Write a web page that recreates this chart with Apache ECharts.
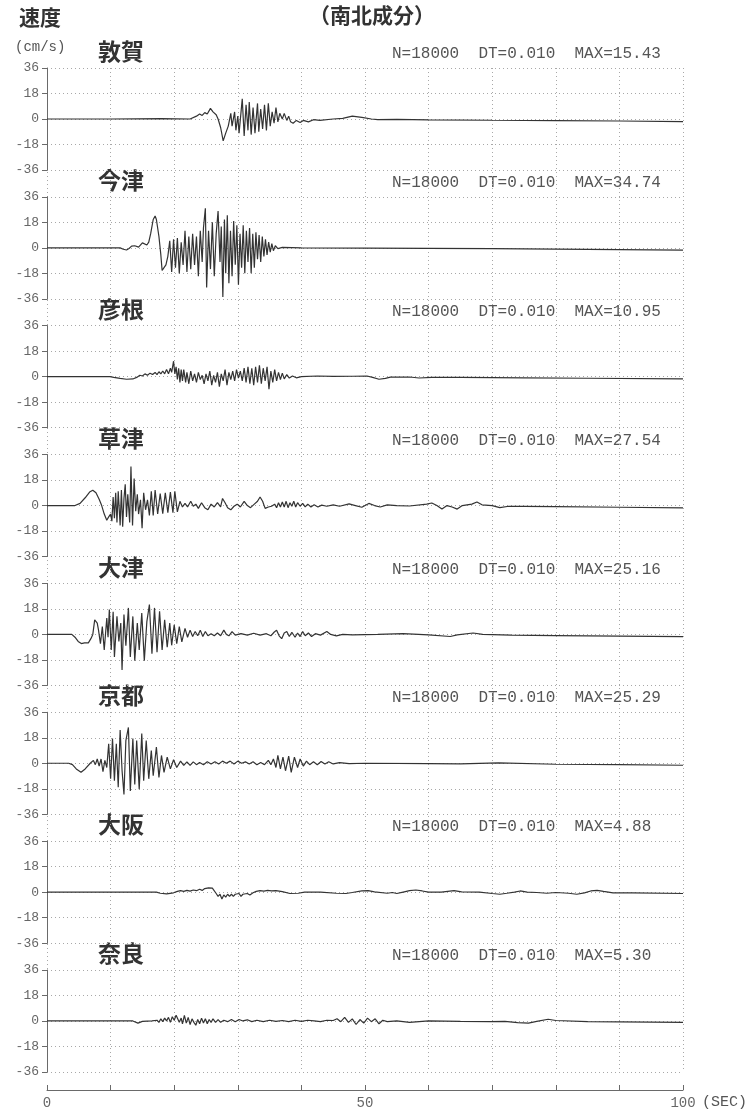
<!DOCTYPE html>
<html>
<head>
<meta charset="utf-8">
<script src="https://cdn.jsdelivr.net/npm/echarts@6/dist/echarts.min.js"></script>
<style>
  html, body { margin: 0; padding: 0; background: #fff; }
  #chart { width: 747px; height: 1112px; }
</style>
</head>
<body>
<div id="chart"></div>
<script>
// Station names, top to bottom
const stations = ['敦賀', '今津', '彦根', '草津', '大津', '京都', '大阪', '奈良'];
// Record header values
const sampleCount = 18000;
const sampleStep = '0.010';
const maxValues = ['15.43', '34.74', '10.95', '27.54', '25.16', '25.29', '4.88', '5.30'];
// Axis ticks
const velocityTicks = [-36, -18, 0, 18, 36];
const timeTicks = [0, 50, 100];

// Velocity traces (cm/s), pairs of [time in s, velocity]
const tsuruga = [[0,0],[10,0],[18,0.2],[22.5,0],[23.5,2],[24.0,3.5],[24.4,2.5],[24.8,4.5],[25.2,3.5],[25.7,7.5],[26.1,5],[26.6,3],[26.9,0],[27.3,-6],[27.7,-15.43],[28.1,-10],[28.5,-5],[28.9,4],[29.1,-5],[29.5,5],[29.7,-8],[30.0,2],[30.2,-10],[30.7,14.2],[31.0,-12],[31.3,10],[31.6,-8],[31.8,12],[32.1,-11],[32.4,8],[32.7,-10],[33.1,11],[33.3,-9],[33.6,7],[33.9,-7],[34.2,10],[34.5,-8],[34.8,11],[35.1,-5],[35.4,5],[35.7,-3],[36.0,8],[36.3,-2],[36.6,4],[37.0,0],[37.3,4],[37.7,-1],[38.0,2],[38.3,-2],[38.7,-3],[39.2,-1],[39.8,-2.5],[40.3,-1],[41.1,-2],[41.9,-0.5],[42.9,-1],[45,0],[46.5,0.5],[48,2],[49.5,1.2],[51,0],[52,-0.5],[55,-0.3],[60,-0.6],[70,-0.9],[80,-1.1],[90,-1.4],[100,-1.8]];

const imazu = [[0,0],[11.5,0],[12.0,-1],[12.5,-1.5],[12.9,-0.5],[13.3,1.2],[13.8,1.5],[14.4,0.5],[15.0,3.5],[15.3,4],[15.7,2],[16.0,4],[16.3,10],[16.7,20],[17.0,22.5],[17.2,20],[17.6,8],[17.9,-5],[18.1,-16],[18.4,-14],[18.7,-12],[19.0,-6],[19.3,5],[19.6,-17],[19.9,6],[20.2,-14],[20.5,7],[20.8,-18],[21.1,4],[21.4,-12],[21.7,12],[22.0,-17],[22.3,8],[22.6,-15],[22.9,10],[23.2,-12],[23.5,8],[23.8,-20],[24.1,12],[24.4,-10],[24.6,14],[24.9,28],[25.1,-28],[25.4,12],[25.7,-15],[26.0,18],[26.3,-20],[26.6,10],[26.9,26],[27.2,-10],[27.4,15],[27.65,-34.74],[27.9,20],[28.1,-18],[28.35,23],[28.6,-25],[28.85,12],[29.1,-20],[29.35,19],[29.6,-12],[29.85,16],[30.1,-26],[30.35,10],[30.6,-14],[30.85,16],[31.1,-18],[31.35,12],[31.6,-10],[31.85,14],[32.1,-18],[32.35,10],[32.6,-14],[32.85,11],[33.1,-8],[33.35,9],[33.6,-10],[33.85,8],[34.1,-6],[34.35,6],[34.6,-5],[34.85,4],[35.1,-3],[35.35,3],[35.6,-2],[35.9,1.5],[36.3,-0.5],[37,0.3],[40,0],[50,-0.2],[60,-0.4],[70,-0.6],[80,-0.9],[90,-1.2],[100,-1.6]];

const hikone = [[0,0],[9.9,0],[10.5,-0.5],[11.5,-1.2],[12.5,-1.8],[13.5,-1.6],[14.1,-0.5],[14.6,1],[15.0,0.5],[15.4,2],[15.8,1],[16.2,2.5],[16.6,1.5],[17.0,3],[17.3,1.5],[17.6,3.5],[17.9,2],[18.2,4],[18.5,2],[18.8,5],[19.1,2],[19.4,6],[19.6,3],[19.9,10.95],[20.1,2],[20.3,7],[20.5,-2],[20.7,6],[20.9,-4],[21.1,5],[21.3,-3],[21.5,5],[21.8,-4],[22.0,3],[22.3,-5],[22.6,4],[22.9,-3],[23.2,2],[23.5,-4],[23.8,3],[24.1,-2],[24.4,1],[24.7,-5],[25.0,2],[25.3,-3],[25.6,4],[25.9,-6],[26.2,1],[26.5,-4],[26.8,3],[27.1,-7],[27.4,2],[27.7,-3],[28.0,5],[28.3,-6],[28.6,3],[28.9,-2],[29.2,4],[29.5,-3],[29.8,5],[30.1,-1],[30.4,4],[30.7,-3],[31.0,6],[31.3,-4],[31.6,7],[31.9,-5],[32.2,6],[32.5,-6],[32.8,7],[33.1,-4],[33.4,8],[33.7,-5],[34.0,6],[34.3,-3],[34.6,7],[34.9,-8.8],[35.2,4],[35.5,-4],[35.8,5],[36.1,-3],[36.4,3],[36.7,-2],[37.0,2.5],[37.3,-1.5],[37.7,1.5],[38.1,-1],[38.6,0.5],[39.2,-0.8],[40,0],[42.5,0.5],[45,0.2],[48,0.3],[50.3,0.5],[51.2,-0.5],[52.2,-1.8],[53.2,-1.2],[54,-0.3],[57,-0.2],[58.5,-0.9],[60.5,-0.5],[65,-0.5],[75,-0.8],[85,-1.1],[100,-1.5]];

const kusatsu = [[0,0],[4.4,0],[5.2,1.5],[6.0,5.5],[6.7,9.5],[7.2,10.8],[7.7,9],[8.2,4.5],[8.6,0],[9.0,-6],[9.4,-10.4],[9.7,-8],[10.0,-6],[10.2,-11],[10.4,6],[10.6,-9],[10.8,9],[11.0,-12],[11.2,10],[11.5,-14],[11.7,11],[11.9,-15],[12.1,5],[12.3,15],[12.5,-8],[12.7,8],[13.0,-12],[13.2,27.54],[13.45,-14],[13.7,19],[13.95,-4],[14.2,8],[14.4,-6],[14.7,4],[14.95,-16],[15.2,9],[15.5,-3],[15.8,4],[16.1,-7],[16.4,10],[16.7,-7],[17.0,11],[17.4,-6],[17.8,8.5],[18.2,-5.7],[18.6,9],[19.0,-5],[19.4,9.5],[19.8,-5],[20.1,10],[20.5,-4.5],[20.9,3],[21.3,-1],[21.7,1.5],[22.1,-1],[22.6,3],[23.0,-0.5],[23.4,1],[23.8,-2],[24.3,2],[24.8,-1.5],[25.3,-3],[25.8,1],[26.3,-1],[26.8,2],[27.3,-1],[27.6,5],[28.0,2],[28.4,-1.5],[28.9,-3],[29.4,-0.5],[29.9,1],[30.4,-1],[31.0,3],[31.5,0],[32.0,-1.5],[32.6,1],[33.1,3],[33.5,6],[33.9,3],[34.3,-2],[34.8,-1],[35.3,-0.5],[35.8,1],[36.1,-1.5],[36.4,2],[36.7,-1],[37.0,2.5],[37.3,-1],[37.6,3],[37.9,-1.5],[38.2,2],[38.5,-0.5],[38.8,3],[39.1,-1],[39.4,2],[39.8,-0.5],[40.2,1.5],[40.6,-1],[41.0,1],[41.5,-1],[42.0,0.5],[42.6,-1],[43.2,0.3],[44,-0.5],[45,0.5],[46,-0.5],[47.5,1.2],[48.5,0],[49.5,-1.2],[50.6,1.5],[51.5,0],[52.4,-1],[53.5,0.5],[55,0],[57,-0.3],[59.7,1],[60.5,1.8],[61.3,0],[62.1,-2.5],[62.9,0],[63.7,-1],[64.5,-2.5],[65.3,0],[66.8,1],[67.6,2.5],[68.4,0.5],[70,0],[71.2,-1.5],[72.6,-0.5],[75,-0.6],[80,-0.8],[90,-1.2],[100,-1.6]];

const otsu = [[0,0],[3.9,0],[4.4,-2],[4.9,-5],[5.4,-6.5],[5.9,-6],[6.5,-6],[6.9,-3],[7.2,0],[7.5,10.3],[7.9,8],[8.1,3],[8.4,-6.5],[8.7,5.5],[9.0,-11],[9.4,11.5],[9.6,-2],[9.8,17.5],[10.1,-11],[10.4,16],[10.6,-16],[11.0,12.7],[11.3,-5],[11.6,8],[11.8,-25.16],[12.1,14],[12.4,-8],[12.8,18.7],[13.1,-16],[13.5,12.7],[13.8,-18.5],[14.2,8],[14.5,-11],[14.9,15],[15.3,-18.5],[15.7,9],[16.1,21],[16.5,-13.7],[16.9,18.7],[17.3,-12.5],[17.7,16.3],[18.1,-11],[18.5,10.3],[18.9,-9],[19.3,8],[19.6,-7.7],[20.0,6.7],[20.4,-6.5],[20.8,5.5],[21.2,-5.3],[21.7,4.3],[22.1,-2],[22.5,3],[22.9,-1.5],[23.3,2],[23.7,-1],[24.1,3],[24.5,-1.5],[24.9,2],[25.3,-1],[25.8,0.5],[26.3,-1],[26.8,1],[27.3,-1],[27.8,3],[28.2,0],[28.6,-1],[29.1,2],[29.6,-0.5],[30.5,0.5],[31.5,-0.5],[32.5,0.8],[33.5,-0.5],[34.5,0.5],[35.2,-1],[35.7,1.5],[36.1,3],[36.5,-1],[36.9,-3],[37.3,1],[37.7,2],[38.1,-1.5],[38.5,1.5],[39.0,-2],[39.4,1],[39.8,-1.5],[40.2,2],[40.6,-1],[41.1,1],[41.6,-1.5],[42.2,0.5],[43,-0.5],[44,2],[44.6,0],[45.5,-1],[46.5,0],[48,-0.3],[52,0],[56,0.5],[60,-0.3],[63.4,-1.5],[64.5,-0.3],[67,1],[68.5,0],[73,-0.5],[80,-0.8],[90,-1.2],[100,-1.5]];

const kyoto = [[0,0],[3.4,0],[4.0,-1],[4.6,-4],[5.35,-6.4],[6.0,-4],[6.8,0],[7.3,2],[7.6,-1],[7.9,3],[8.2,-2],[8.5,3],[8.8,-6],[9.1,2],[9.4,-3],[9.7,13.8],[10.0,-11],[10.3,17.4],[10.6,-12.4],[10.9,13.8],[11.2,-17],[11.5,23.4],[11.8,-5],[12.1,-22],[12.4,16],[12.8,25.29],[13.1,-19.6],[13.5,17.4],[13.8,-15],[14.1,16],[14.5,-18.4],[14.9,21],[15.2,-12.4],[15.6,16],[16.0,-11],[16.4,9],[16.7,-8.8],[17.2,11.5],[17.6,-10],[18.0,5.5],[18.4,-6.4],[18.9,4.3],[19.4,-4],[19.9,2.5],[20.4,-3],[21.0,1.5],[21.5,-1.5],[22.0,1],[22.5,-1.5],[23,1],[23.5,-1],[24,0.5],[24.6,-1],[25.2,1],[25.8,-0.5],[26.4,1],[27,-0.5],[27.6,1.5],[28.2,0],[28.8,1.5],[29.4,-0.5],[30,1.5],[30.6,0],[31.2,1],[31.8,-0.5],[32.4,1],[33,-1],[33.6,0.5],[34.2,-1],[34.8,2],[35.2,-1],[35.6,3],[36.0,-3],[36.3,5.5],[36.7,-4],[37.1,4.3],[37.5,-5.3],[38.0,5],[38.4,-6.4],[38.9,4.3],[39.4,-3],[39.8,3],[40.3,-2],[40.8,1.5],[41.3,-1],[41.9,1],[42.5,-1],[43.1,1.2],[43.7,-0.5],[44.3,1],[45,-0.5],[46,0.5],[47.5,-0.3],[50,0],[60,-0.3],[65,-0.5],[71,0.3],[80,-0.7],[90,-1],[100,-1.4]];

const osaka = [[0,0],[17.2,0],[17.8,-0.8],[18.8,-1.2],[19.9,-0.5],[20.5,0.5],[21.0,1],[21.5,0.5],[22.0,1.2],[22.5,0.7],[23.0,1.5],[23.5,1],[24.0,2],[24.4,1.2],[24.8,2.5],[25.1,1.5],[25.4,3],[25.7,2],[26.0,2.8],[26.3,1.5],[26.6,-1],[26.9,-3],[27.2,-1.5],[27.5,-4.88],[27.8,-2],[28.1,-3.5],[28.4,-1.5],[28.7,-3],[29.0,-1.5],[29.3,-3],[29.6,-1.5],[29.9,-2.5],[30.2,-1],[30.5,-3],[30.8,-1.5],[31.1,-2],[31.5,-1],[31.9,-2],[32.4,-0.5],[32.9,0.5],[33.5,1],[34.1,0.7],[34.7,1.2],[35.3,0.8],[36,1],[37,0.3],[38.2,-1],[39.5,-0.8],[40.5,0],[43,0],[45.5,-0.8],[47,-1],[48,-0.3],[49.5,0.8],[50.5,1],[51.5,0.2],[53.5,-0.8],[54.3,-0.3],[55,-1],[56,0],[57,1],[58,1.5],[59,0.8],[60,0],[62,0],[64,1],[65.2,0.2],[68,0],[70,-1],[71.2,-1.5],[72.3,-0.8],[73.5,0],[74.4,0.8],[75.5,0],[77,-0.3],[78.6,-0.8],[80,-0.3],[82,-0.8],[83.3,-1.5],[84.5,-0.5],[85.5,0.8],[86.5,1.2],[87.5,0.5],[89,-0.5],[92,-0.5],[100,-1]];

const nara = [[0,0],[13.5,0],[14.3,-1.5],[15.0,-0.3],[16.5,0],[17.3,0.5],[17.6,-1],[17.9,1.5],[18.2,-0.5],[18.5,2],[18.8,0],[19.1,2.5],[19.4,-1],[19.7,3],[20.0,0.5],[20.3,4],[20.5,5.3],[20.8,-1],[21.1,2],[21.3,-2],[21.6,4],[21.9,-1.5],[22.2,2.5],[22.5,-2.5],[22.8,1.5],[23.1,-1],[23.4,-3],[23.7,1],[24.0,-2],[24.3,2],[24.6,-1.5],[24.9,1.5],[25.2,-2],[25.5,1],[25.8,-1],[26.1,1.5],[26.5,-1],[26.9,1],[27.3,-1],[27.8,0.5],[28.4,-0.5],[29,1],[29.6,-0.5],[30.2,1],[30.8,0],[31.5,0.8],[32.2,-0.5],[33,0.5],[34,-0.5],[35,0.5],[36,-0.3],[37,0.3],[38,-0.5],[39,0.5],[40,-0.3],[41,0.5],[42,0],[43,-0.5],[44,0.5],[45,0.3],[45.6,1.5],[46.2,-0.5],[46.8,2.5],[47.4,-1],[48,1.5],[48.6,-2.5],[49.2,1],[49.8,-1.5],[50.4,2],[51,-0.5],[51.6,1.5],[52.2,-2],[52.8,0.5],[53.5,-0.5],[55,0],[57,-1],[58.5,-0.5],[60,0],[65,-0.3],[69.7,-0.5],[72,-0.3],[74,-1.2],[75.7,-1.5],[77,-0.3],[78.8,1.2],[80,0.3],[85,-0.5],[100,-1]];

const traces = [tsuruga, imazu, hikone, kusatsu, otsu, kyoto, osaka, nara];

// Layout
const PLOT_LEFT = 47, PLOT_RIGHT = 64;
const FIRST_TOP = 68, STEP = 128.85, PANEL_H = 102;
const TIME_AXIS_Y = 1090;
const MONO = 'Liberation Mono, DejaVu Sans Mono, monospace';
const CJK = 'Noto Sans CJK JP, Noto Sans CJK SC, sans-serif';
const INK = '#333';
const AXIS_GREY = '#6a6a6a';
const GRID_DOT = { type: [1, 3], color: '#a8a8a8', width: 1 };

const grids = [], xAxes = [], yAxes = [], series = [], texts = [];

stations.forEach((name, i) => {
  const top = FIRST_TOP + i * STEP;
  grids.push({ left: PLOT_LEFT, right: PLOT_RIGHT, top: top, height: PANEL_H });
  xAxes.push({
    type: 'value', gridIndex: i, min: 0, max: 100, interval: 10,
    axisLine: { show: false }, axisTick: { show: false },
    axisLabel: { show: false }, splitLine: { show: false }
  });
  yAxes.push({
    type: 'value', gridIndex: i, min: velocityTicks[0], max: velocityTicks[velocityTicks.length - 1],
    interval: velocityTicks[1] - velocityTicks[0],
    axisLine: { show: true, lineStyle: { color: AXIS_GREY, width: 1 } },
    axisTick: { show: true, length: 5, lineStyle: { color: AXIS_GREY } },
    axisLabel: { color: '#666', fontFamily: MONO, fontSize: 13, margin: 8 },
    splitLine: { show: true, lineStyle: GRID_DOT }
  });
  series.push({
    type: 'line', xAxisIndex: i, yAxisIndex: i, data: traces[i],
    showSymbol: false, symbol: 'none', silent: true,
    lineStyle: { color: INK, width: 1.2 }, z: 3
  });
  texts.push({
    type: 'text', left: 98, top: top - 28,
    style: { text: name, font: 'bold 23px ' + CJK, fill: '#333' }
  });
  texts.push({
    type: 'text', left: 392, top: top - 22,
    style: {
      text: 'N=' + sampleCount + '  DT=' + sampleStep + '  MAX=' + maxValues[i],
      font: '16px ' + MONO, fill: '#555'
    }
  });
});

// Shared frame: vertical dotted lines running through all panels
const lastBottom = FIRST_TOP + (stations.length - 1) * STEP + PANEL_H;
const bg = grids.length;
grids.push({ left: PLOT_LEFT, right: PLOT_RIGHT, top: FIRST_TOP, height: lastBottom - FIRST_TOP });
xAxes.push({
  type: 'value', gridIndex: bg, min: 0, max: 100, interval: 10,
  axisLine: { show: false }, axisTick: { show: false }, axisLabel: { show: false },
  splitLine: { show: true, lineStyle: GRID_DOT }
});
yAxes.push({ type: 'value', gridIndex: bg, min: 0, max: 1, show: false });

// Time axis under the last panel
const ta = grids.length;
grids.push({ left: PLOT_LEFT, right: PLOT_RIGHT, top: lastBottom, height: TIME_AXIS_Y - lastBottom });
xAxes.push({
  type: 'value', gridIndex: ta, min: 0, max: 100, interval: 10, position: 'bottom',
  axisLine: { show: true, lineStyle: { color: AXIS_GREY, width: 1 } },
  axisTick: { show: true, inside: true, length: 5, lineStyle: { color: AXIS_GREY } },
  axisLabel: {
    color: '#666', fontFamily: MONO, fontSize: 14, margin: 6,
    formatter: v => (timeTicks.indexOf(v) >= 0 ? String(v) : '')
  },
  splitLine: { show: false }
});
yAxes.push({ type: 'value', gridIndex: ta, min: 0, max: 1, show: false });

texts.push(
  { type: 'text', left: 19, top: 7, style: { text: '速度', font: 'bold 21px ' + CJK, fill: '#333' } },
  { type: 'text', left: 15, top: 40, style: { text: '(cm/s)', font: '14px ' + MONO, fill: '#555' } },
  { type: 'text', left: 309, top: 5, style: { text: '（南北成分）', font: 'bold 21px ' + CJK, fill: '#333' } },
  { type: 'text', left: 702, top: 1095, style: { text: '(SEC)', font: '15px ' + MONO, fill: '#555' } }
);

const chart = echarts.init(document.getElementById('chart'), null, { renderer: 'canvas' });
chart.setOption({
  animation: false,
  backgroundColor: '#fff',
  grid: grids,
  xAxis: xAxes,
  yAxis: yAxes,
  series: series,
  graphic: texts
});
</script>
</body>
</html>
